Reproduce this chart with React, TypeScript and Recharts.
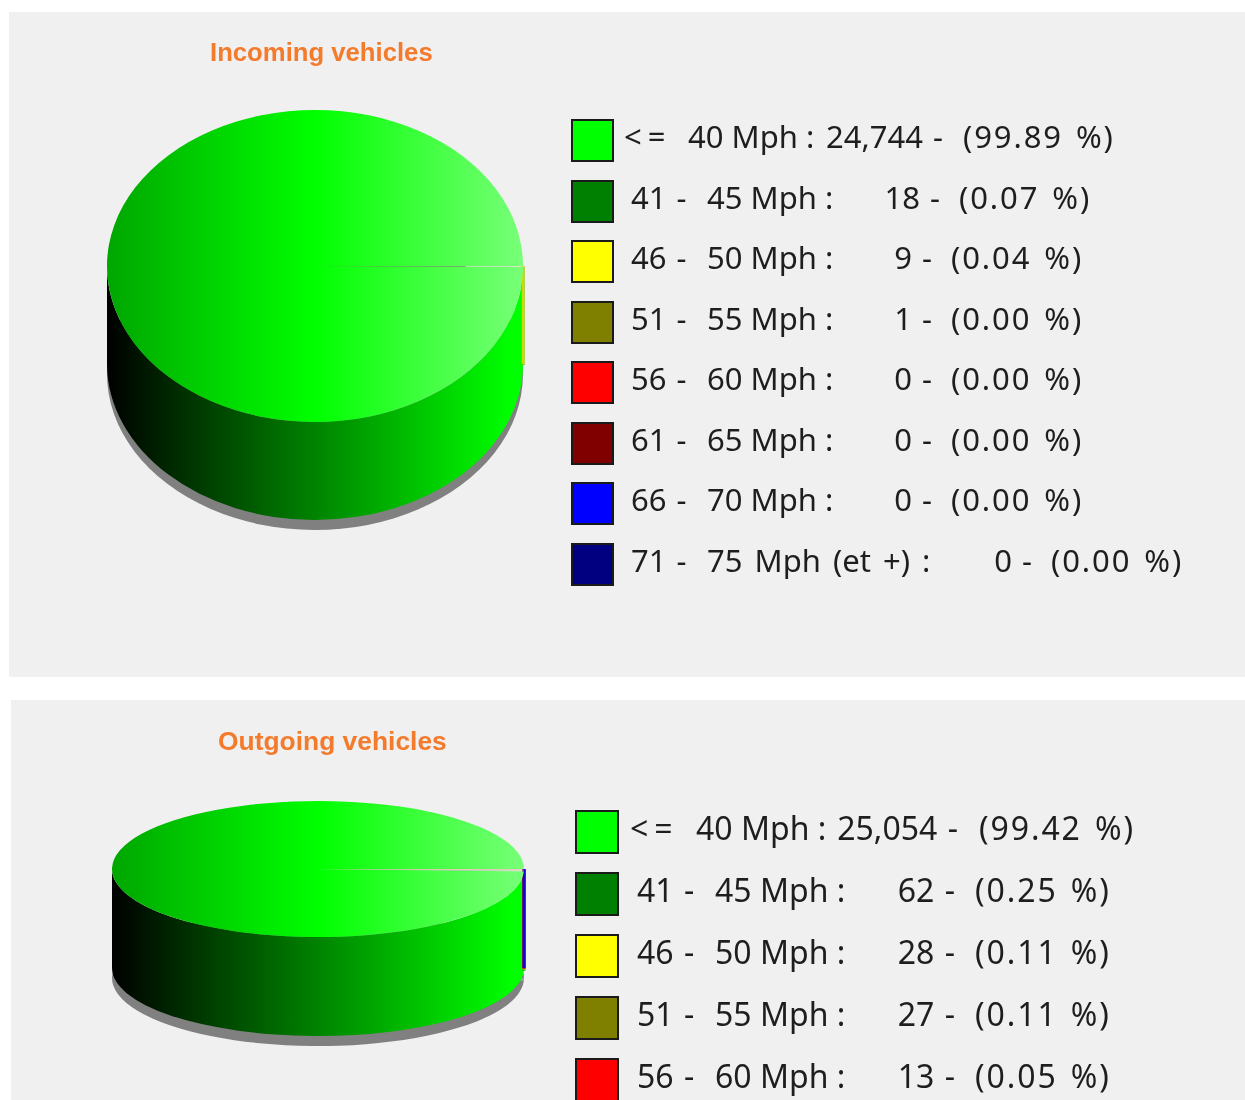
import { Pie, PieChart } from 'recharts'

// ---- data ----
const speedPrefixes = ['<=', '41 -', '46 -', '51 -', '56 -', '61 -', '66 -', '71 -']
const speedRanges = ['40 Mph :', '45 Mph :', '50 Mph :', '55 Mph :', '60 Mph :', '65 Mph :', '70 Mph :', '75 Mph (et +) :']
const sliceColors = ['#00ff00', '#008000', '#ffff00', '#808000', '#ff0000', '#800000', '#0000ff', '#000080']

const incomingCounts = [24744, 18, 9, 1, 0, 0, 0, 0]
const incomingPercents = ['99.89', '0.07', '0.04', '0.00', '0.00', '0.00', '0.00', '0.00']

// last three rows are cut off by the picture, estimated from the 99.42 % share
const outgoingCounts = [25054, 62, 28, 27, 13, 11, 5, 0]
const outgoingPercents = ['99.42', '0.25', '0.11', '0.11', '0.05', '0.04', '0.02', '0.00']

const FONT = '"Noto Sans", sans-serif'
const THIN_SLICE = 5 // degrees

const rad = (a: number) => (a * Math.PI) / 180

// f < 0 darkens towards black, f > 0 lightens towards white
function shade(hex: string, f: number) {
  const parts = [1, 3, 5].map((i) => parseInt(hex.slice(i, i + 2), 16))
  const out = parts.map((v) => Math.round(f < 0 ? v * (1 + f) : v + (255 - v) * f))
  return `rgb(${out.join(',')})`
}

function ellipsePoint(cx: number, cy: number, rx: number, ry: number, a: number) {
  return [cx + rx * Math.cos(rad(a)), cy - ry * Math.sin(rad(a))]
}

function topPath(cx: number, cy: number, rx: number, ry: number, a0: number, a1: number) {
  const [x0, y0] = ellipsePoint(cx, cy, rx, ry, a0)
  const [x1, y1] = ellipsePoint(cx, cy, rx, ry, a1)
  const large = a1 - a0 > 180 ? 1 : 0
  return `M${cx},${cy}L${x0},${y0}A${rx},${ry} 0 ${large} 0 ${x1},${y1}Z`
}

function wallPath(cx: number, cy: number, rx: number, ry: number, depth: number, a0: number, a1: number) {
  const [x0, y0] = ellipsePoint(cx, cy, rx, ry, a0)
  const [x1, y1] = ellipsePoint(cx, cy, rx, ry, a1)
  const large = a1 - a0 > 180 ? 1 : 0
  return (
    `M${x0},${y0}A${rx},${ry} 0 ${large} 0 ${x1},${y1}` +
    `L${x1},${y1 + depth}A${rx},${ry} 0 ${large} 1 ${x0},${y0 + depth}Z`
  )
}

function Disc({ id, counts, width, height, cx, cy, rx, ry, depth }: any) {
  const total = counts.reduce((s: number, v: number) => s + v, 0)
  const rows = counts.map((value: number, i: number) => ({ name: speedRanges[i], value }))
  const yScale = ry / rx

  const shadow = (p: any) =>
    p.endAngle - p.startAngle <= 0 ? (
      <g />
    ) : (
      <path d={topPath(p.cx, p.cy + depth + 10, p.outerRadius, p.outerRadius * yScale, p.startAngle, p.endAngle)} fill="#808080" />
    )

  const wall = (p: any) => {
    const a0 = Math.max(p.startAngle, 180)
    const a1 = p.endAngle
    if (a1 <= a0) return <g />
    const thin = a1 - a0 < THIN_SLICE
    const share = p.value / total
    return (
      <path
        d={wallPath(p.cx, p.cy, p.outerRadius, p.outerRadius * yScale, depth, a0, a1)}
        fill={`url(#${id}-wall-${p.index})`}
        stroke={thin ? sliceColors[p.index] : 'none'}
        strokeOpacity={thin ? Math.min(1, share / 0.0002) * 0.85 : 0}
        strokeWidth={thin ? 3 : 0}
      />
    )
  }

  const top = (p: any) => {
    const span = p.endAngle - p.startAngle
    if (span <= 0) return <g />
    return (
      <path
        d={topPath(p.cx, p.cy, p.outerRadius, p.outerRadius * yScale, p.startAngle, p.endAngle)}
        fill={`url(#${id}-top-${p.index})`}
        fillOpacity={span < THIN_SLICE ? 0.45 : 1}
      />
    )
  }

  return (
    <PieChart width={width} height={height} margin={{ top: 0, right: 0, bottom: 0, left: 0 }}>
      <defs>
        {sliceColors.map((c, i) => (
          <linearGradient key={`t${i}`} id={`${id}-top-${i}`} gradientUnits="userSpaceOnUse" x1={cx - rx} y1={0} x2={cx + rx} y2={0}>
            <stop offset="0" stopColor={shade(c, -0.35)} />
            <stop offset="0.5" stopColor={c} />
            <stop offset="1" stopColor={shade(c, 0.47)} />
          </linearGradient>
        ))}
        {sliceColors.map((c, i) => (
          <linearGradient key={`w${i}`} id={`${id}-wall-${i}`} gradientUnits="userSpaceOnUse" x1={cx - rx} y1={0} x2={cx + rx} y2={0}>
            <stop offset="0" stopColor="#000000" />
            <stop offset="0.97" stopColor={c} />
          </linearGradient>
        ))}
      </defs>
      <Pie data={rows} dataKey="value" cx={cx} cy={cy} outerRadius={rx} startAngle={0} endAngle={360} stroke="none" shape={shadow} isAnimationActive={false} />
      <Pie data={rows} dataKey="value" cx={cx} cy={cy} outerRadius={rx} startAngle={0} endAngle={360} stroke="none" shape={wall} isAnimationActive={false} />
      <Pie data={rows} dataKey="value" cx={cx} cy={cy} outerRadius={rx} startAngle={0} endAngle={360} stroke="none" shape={top} isAnimationActive={false} />
    </PieChart>
  )
}

function LegendRows({ counts, percents, layout }: any) {
  const { swatchX, swatchY, swatchSize, step, fontSize, textDy, prefixX, rangeX, countEnd, pctX } = layout
  const piece = (left: number, top: number, text: string, extra: any = {}) => (
    <span style={{ position: 'absolute', left, top, lineHeight: `${fontSize + 8}px`, whiteSpace: 'pre', ...extra }}>{text}</span>
  )
  return (
    <div
      style={{
        position: 'absolute',
        left: 0,
        top: 0,
        width: 1245,
        height: 1100,
        overflow: 'hidden',
        fontFamily: FONT,
        fontSize,
        color: '#1e1e1e',
        filter: 'blur(0.4px)',
      }}
    >
      {counts.map((value: number, i: number) => {
        const y = swatchY + i * step
        const textTop = y + textDy
        const first = i === 0
        const last = i === counts.length - 1
        return (
          <div key={i}>
            <div
              style={{
                position: 'absolute',
                left: swatchX,
                top: y,
                width: swatchSize - 4,
                height: swatchSize - 4,
                background: sliceColors[i],
                border: '2px solid #1a1a1a',
              }}
            />
            {piece(prefixX[first ? 0 : 1], textTop, speedPrefixes[i], first ? { letterSpacing: 6 } : { wordSpacing: 2 })}
            {piece(rangeX[first ? 0 : 1], textTop, speedRanges[i], last ? { wordSpacing: 4 } : {})}
            <span
              style={{
                position: 'absolute',
                right: 1245 - countEnd(i, last),
                top: textTop,
                lineHeight: `${fontSize + 8}px`,
                whiteSpace: 'pre',
                wordSpacing: 2,
              }}
            >
              {`${value.toLocaleString('en-US')} -`}
            </span>
            {piece(pctX(i, last), textTop, `(${percents[i]} %)`, { letterSpacing: 1.9, wordSpacing: 3 })}
          </div>
        )
      })}
    </div>
  )
}

const panelStyle = (left: number, top: number, height: number): any => ({
  position: 'absolute',
  left,
  top,
  width: 1245 - left,
  height,
  background: '#f0f0f0',
})

const titleStyle = (left: number, top: number, fontSize: number): any => ({
  position: 'absolute',
  left,
  top,
  fontFamily: '"Liberation Sans", Arial, sans-serif',
  fontWeight: 700,
  fontSize,
  lineHeight: '30px',
  color: '#f47a2c',
  whiteSpace: 'nowrap',
  filter: 'blur(0.4px)',
})

const incomingLayout = {
  swatchX: 571,
  swatchY: 119,
  swatchSize: 43,
  step: 60.5,
  fontSize: 31,
  textDy: -2,
  prefixX: [624, 631],
  rangeX: [688, 707],
  countEnd: (i: number, last: boolean) => (last ? 1032 : i === 0 ? 943 : i === 1 ? 940 : 932),
  pctX: (i: number, last: boolean) => (last ? 1051 : i === 0 ? 963 : i === 1 ? 959 : 951),
}

const outgoingLayout = {
  swatchX: 575,
  swatchY: 810,
  swatchSize: 44,
  step: 62,
  fontSize: 32,
  textDy: -2,
  prefixX: [630, 637],
  rangeX: [696, 715],
  countEnd: (i: number) => (i === 0 ? 958 : 955),
  pctX: (i: number) => (i === 0 ? 979 : 975),
}

export default function App() {
  return (
    <div style={{ position: 'fixed', left: 0, top: 0, width: 1245, height: 1100, overflow: 'hidden', background: '#fff' }}>
      <div style={panelStyle(9, 12, 665)} />
      <div style={panelStyle(11, 700, 400)} />

      <div style={{ position: 'absolute', left: 0, top: 0 }}>
        <Disc id="inc" counts={incomingCounts} width={560} height={560} cx={315} cy={266} rx={208} ry={156} depth={98} />
      </div>
      <div style={{ position: 'absolute', left: 0, top: 700 }}>
        <Disc id="out" counts={outgoingCounts} width={560} height={400} cx={318} cy={169} rx={206} ry={68} depth={99} />
      </div>

      <div style={titleStyle(210, 37, 25.7)}>Incoming vehicles</div>
      <div style={titleStyle(218, 726, 26.4)}>Outgoing vehicles</div>

      <LegendRows counts={incomingCounts} percents={incomingPercents} layout={incomingLayout} />
      <LegendRows counts={outgoingCounts} percents={outgoingPercents} layout={outgoingLayout} />
    </div>
  )
}
